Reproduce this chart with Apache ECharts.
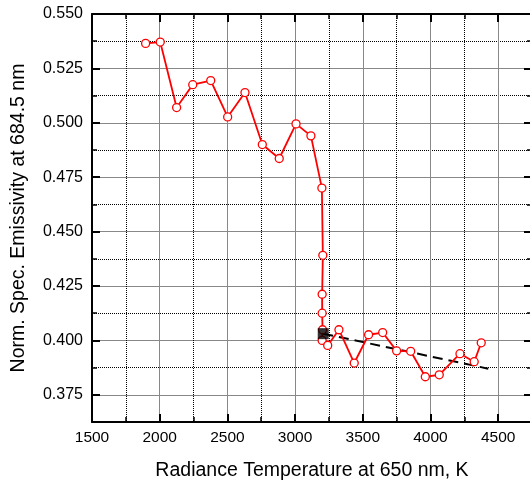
<!DOCTYPE html>
<html>
<head>
<meta charset="utf-8">
<script src="https://cdn.jsdelivr.net/npm/echarts@6/dist/echarts.min.js"></script>
<style>html,body{margin:0;padding:0;background:#fff;}#c{width:530px;height:481px;}</style>
</head>
<body>
<div id="c"></div>
<script>
// Data
const tempK = [1896, 2004, 2125, 2244, 2377, 2502, 2630, 2758, 2883, 3007, 3117, 3198, 3205, 3200, 3200, 3203, 3200, 3241, 3324, 3437, 3543, 3647, 3750, 3854, 3962, 4065, 4218, 4323, 4375];
const emissivity = [0.5365, 0.5371, 0.5070, 0.5175, 0.5194, 0.5027, 0.5139, 0.4900, 0.4836, 0.4995, 0.4940, 0.4700, 0.4391, 0.4212, 0.4125, 0.4049, 0.4000, 0.3977, 0.4049, 0.3896, 0.4026, 0.4036, 0.3952, 0.3950, 0.3833, 0.3842, 0.3939, 0.3902, 0.3989];
const squareX = [3208];
const squareY = [0.4031];
const trendX = [3208, 4427];
const trendY = [0.4031, 0.3870];
const xMin = 1500, xMax = 4750, xStep = 500;
const yMin = 0.3625, yMax = 0.55, yStep = 0.025;

const FONT = '"Liberation Sans", Arial, sans-serif';
const chart = echarts.init(document.getElementById('c'), null, {renderer: 'canvas'});

function zip(a, b) { return a.map((v, i) => [v, b[i]]); }
const isMajorY = v => Math.abs(v / yStep - Math.round(v / yStep)) < 1e-6;

const majorTick = {show: true, inside: true, length: 8, lineStyle: {color: '#000', width: 2}};
const minorTickS = {show: true, inside: true, length: 5, lineStyle: {color: '#000', width: 1.5}};
const gridSolid = {show: true, lineStyle: {color: '#888', width: 1, type: 'solid'}};
const gridDot = {show: true, lineStyle: {color: '#000', width: 1, type: [1, 1]}};

const option = {
  animation: false,
  backgroundColor: '#fff',
  grid: {left: 92, top: 14, width: 440, height: 408, containLabel: false, outerBoundsMode: 'none'},
  xAxis: [
    { // bottom majors (data axis)
      type: 'value', position: 'bottom', min: xMin, max: xMax, interval: xStep,
      axisLine: {show: true, onZero: false, lineStyle: {color: '#000', width: 2}},
      axisTick: majorTick, splitLine: gridSolid,
      axisLabel: {show: true, margin: 8, color: '#000', fontSize: 15.5, fontFamily: FONT, showMaxLabel: false,
        formatter: v => (v % xStep === 0 && v <= 4500) ? String(v) : ''},
      name: 'Radiance Temperature at 650 nm, K', nameLocation: 'middle', nameGap: 39,
      nameTextStyle: {color: '#000', fontSize: 19.5, fontFamily: FONT}
    },
    { // bottom minors (negated, inverse)
      type: 'value', position: 'bottom', min: -xMax, max: -xMin, interval: xStep, inverse: true,
      axisLine: {show: false, onZero: false}, axisTick: minorTickS, splitLine: gridDot, axisLabel: {show: false}
    },
    { // top majors
      type: 'value', position: 'top', min: xMin, max: xMax, interval: xStep,
      axisLine: {show: true, onZero: false, lineStyle: {color: '#000', width: 2}},
      axisTick: majorTick, splitLine: {show: false}, axisLabel: {show: false}
    },
    { // top minors
      type: 'value', position: 'top', min: -xMax, max: -xMin, interval: xStep, inverse: true,
      axisLine: {show: false, onZero: false}, axisTick: minorTickS, splitLine: {show: false}, axisLabel: {show: false}
    }
  ],
  yAxis: [
    { // left minors (data axis)
      type: 'value', position: 'left', min: yMin, max: yMax, interval: yStep,
      axisLine: {show: false, onZero: false}, axisTick: minorTickS, splitLine: gridDot, axisLabel: {show: false}
    },
    { // left majors (negated, inverse) with labels
      type: 'value', position: 'left', min: -yMax, max: -yMin, interval: yStep, inverse: true,
      axisLine: {show: true, onZero: false, lineStyle: {color: '#000', width: 2}},
      axisTick: majorTick, splitLine: gridSolid,
      axisLabel: {show: true, margin: 9, color: '#000', fontSize: 16, fontFamily: FONT,
        showMinLabel: true, showMaxLabel: true,
        formatter: v => isMajorY(-v) ? (-v).toFixed(3) : ''},
      name: 'Norm. Spec. Emissivity at 684.5 nm', nameLocation: 'middle', nameGap: 63,
      nameTextStyle: {color: '#000', fontSize: 19.5, fontFamily: FONT}
    },
    { // right minors
      type: 'value', position: 'right', min: yMin, max: yMax, interval: yStep,
      axisLine: {show: false, onZero: false}, axisTick: minorTickS, splitLine: {show: false}, axisLabel: {show: false}
    },
    { // right majors
      type: 'value', position: 'right', min: -yMax, max: -yMin, interval: yStep, inverse: true,
      axisLine: {show: false, onZero: false},
      axisTick: majorTick, splitLine: {show: false}, axisLabel: {show: false}
    }
  ],
  series: [
    {
      type: 'line', xAxisIndex: 0, yAxisIndex: 0, z: 3,
      data: zip(trendX, trendY), symbol: 'none',
      lineStyle: {color: '#000', width: 2, type: [10, 6]}
    },
    {
      type: 'line', xAxisIndex: 0, yAxisIndex: 0, z: 4,
      data: zip(tempK, emissivity),
      symbol: 'circle', symbolSize: 8,
      itemStyle: {color: '#fff', borderColor: '#ff0000', borderWidth: 1.3},
      lineStyle: {color: '#ff0000', width: 1.8}
    },
    {
      type: 'scatter', xAxisIndex: 0, yAxisIndex: 0, z: 10, zlevel: 1,
      data: zip(squareX, squareY), symbol: 'rect', symbolSize: 11,
      itemStyle: {color: '#000'}
    }
  ]
};
chart.setOption(option);
</script>
</body>
</html>
